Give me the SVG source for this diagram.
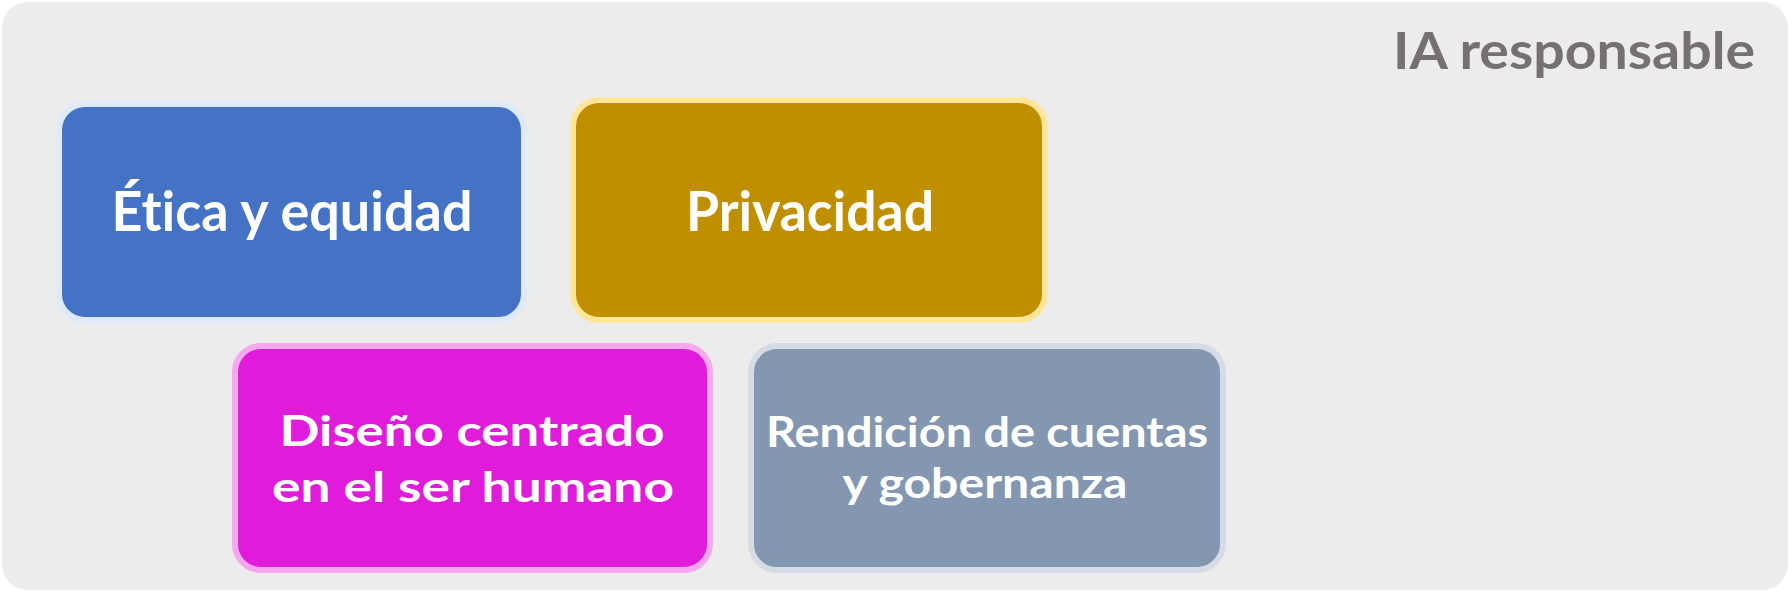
<svg xmlns="http://www.w3.org/2000/svg" width="1792" height="592" viewBox="0 0 1792 592">
<style>
.lbl{font-family:Lato,"Open Sans","Liberation Sans",sans-serif;font-weight:700;fill:#ffffff;text-anchor:middle;font-variant-ligatures:none}
.big{font-size:55px}
.small{font-size:42px}
.title{font-family:Lato,"Open Sans","Liberation Sans",sans-serif;font-weight:700;font-size:52px;fill:#767171;text-anchor:end;font-variant-ligatures:none}
.box{stroke-width:6;stroke-linejoin:round}
</style>
<rect x="0" y="0" width="1792" height="592" fill="#ffffff"/>
<rect id="panel" x="2" y="2" width="1786" height="588" rx="26" fill="#ececec"/>
<text class="title" x="1755" y="69" textLength="362" lengthAdjust="spacingAndGlyphs">IA responsable</text>
<g id="connectors"></g>
<g id="node-etica">
<rect class="box" x="59" y="104" width="465" height="216" rx="26" fill="#4472c4" stroke="#ddeaf8"/>
<text class="lbl big" x="292" y="231" textLength="361" lengthAdjust="spacingAndGlyphs">Ética y equidad</text>
</g>
<g id="node-privacidad">
<rect class="box" x="573" y="100" width="472" height="220" rx="26" fill="#bf8f00" stroke="#ffe699"/>
<text class="lbl big" x="810" y="231" textLength="248" lengthAdjust="spacingAndGlyphs">Privacidad</text>
</g>
<g id="node-diseno">
<rect class="box" x="235" y="346" width="475" height="224" rx="26" fill="#e01bd9" stroke="#f6a8ef"/>
<text class="lbl small" x="472" y="446" textLength="385" lengthAdjust="spacingAndGlyphs">Diseño centrado</text>
<text class="lbl small" x="473" y="502" textLength="402" lengthAdjust="spacingAndGlyphs">en el ser humano</text>
</g>
<g id="node-rendicion">
<rect class="box" x="751" y="346" width="472" height="224" rx="26" fill="#8497b0" stroke="#d6dce5"/>
<text class="lbl small" x="987" y="447" textLength="442" lengthAdjust="spacingAndGlyphs">Rendición de cuentas</text>
<text class="lbl small" x="985" y="498" textLength="285" lengthAdjust="spacingAndGlyphs">y gobernanza</text>
</g>
</svg>
